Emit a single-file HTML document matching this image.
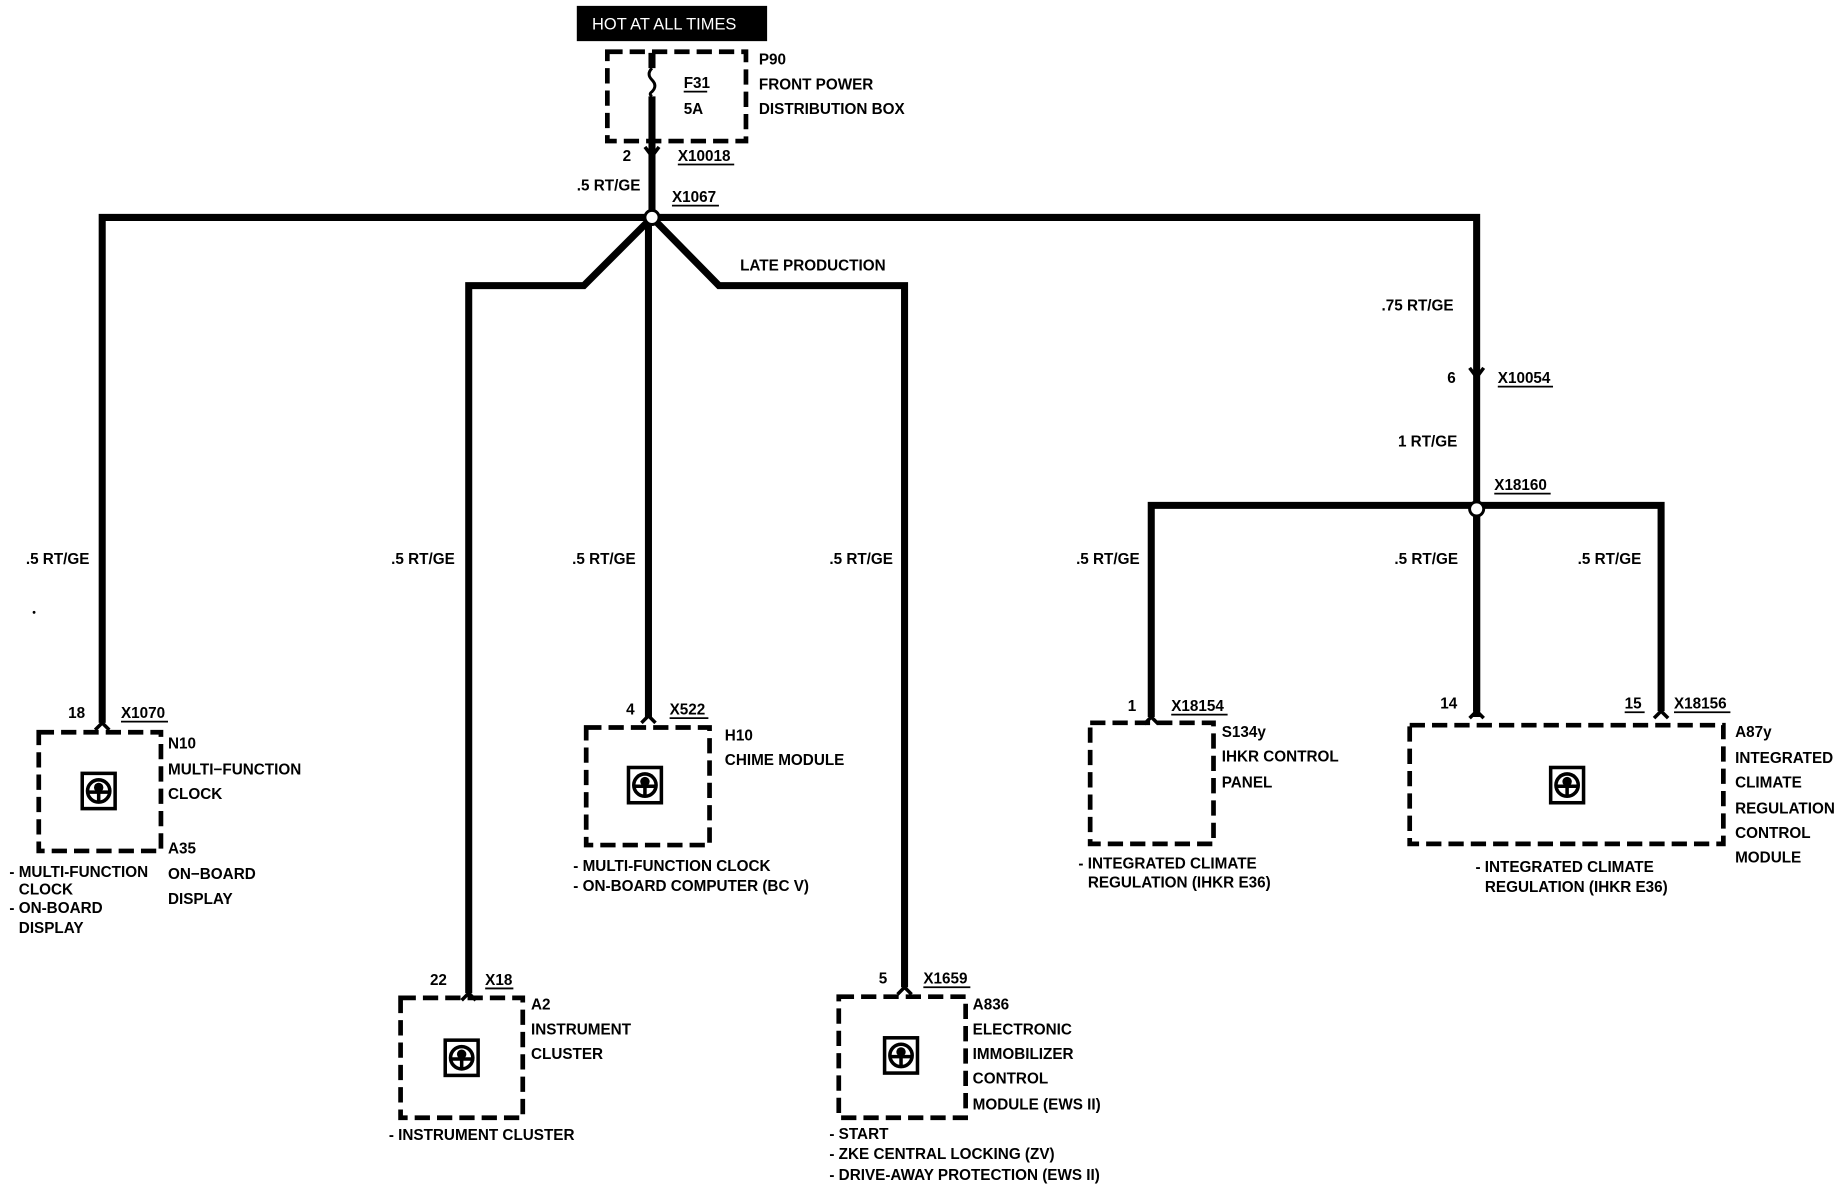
<!DOCTYPE html>
<html><head><meta charset="utf-8"><style>
html,body{margin:0;padding:0;background:#fff;}
svg{display:block;}
text{font-family:"Liberation Sans",sans-serif;font-weight:bold;font-size:13px;fill:#000;}
</style></head><body>
<svg width="1842" height="1200" viewBox="0 0 1568 1021" preserveAspectRatio="none" xmlns="http://www.w3.org/2000/svg">
<defs>
<g id="ico">
<rect x="-14" y="-15" width="28" height="30" fill="#fff" stroke="#000" stroke-width="3"/>
<circle cx="0" cy="0" r="9.5" fill="none" stroke="#000" stroke-width="3"/>
<circle cx="0" cy="-3" r="4" fill="#000"/>
<line x1="0" y1="0" x2="0" y2="9" stroke="#000" stroke-width="3"/>
<line x1="-9" y1="1" x2="9" y2="1" stroke="#000" stroke-width="3"/>
</g>
</defs>
<rect x="491" y="5" width="162" height="30" fill="#000"/>
<text x="504" y="25" style="fill:#fff;font-weight:normal;font-size:14px">HOT AT ALL TIMES</text>

<g fill="none" stroke="#000" stroke-width="4" stroke-dasharray="13,6">
<rect x="517" y="44" width="118" height="76"/>
<rect x="33" y="623" width="104" height="101"/>
<rect x="499" y="619" width="105" height="100"/>
<rect x="341" y="849" width="104" height="102"/>
<rect x="714" y="848" width="108" height="103"/>
<rect x="928" y="615" width="105" height="103"/>
<rect x="1200" y="617" width="267" height="101"/>
</g>

<g fill="none" stroke="#000" stroke-width="6">
<path d="M555,45 V58 M555,82 V185"/>
<path d="M87,615 V185 H1257 V605"/>
<path d="M555,185 L497,243 H399 V845"/>
<path d="M555,185 L612,243 H770 V840"/>
<path d="M552,185 V610"/>
<path d="M980,610 V430 H1414 V605"/>
<path d="M1257,430 V610"/>
</g>
<path d="M555,58 q-5,5 0,10 q5,5 0,10 q-3,2 0,4" fill="none" stroke="#000" stroke-width="2.5"/>
<!-- connector arrows -->
<g fill="none" stroke="#000" stroke-width="3">
<path d="M549,125 L555,133 L561,125"/>
<path d="M1251,313 L1257,321 L1263,313"/>
<path d="M81,621 L87,615 L93,621"/>
<path d="M546,615 L552,609 L558,615"/>
<path d="M393,851 L399,845 L405,851"/>
<path d="M764,846 L770,840 L776,846"/>
<path d="M974,616 L980,610 L986,616"/>
<path d="M1251,611 L1257,605 L1263,611"/>
<path d="M1408,611 L1414,605 L1420,611"/>
</g>
<circle cx="555" cy="185" r="6" fill="#fff" stroke="#000" stroke-width="2.5"/>
<circle cx="1257" cy="433" r="6" fill="#fff" stroke="#000" stroke-width="2.5"/>
<circle cx="29" cy="521" r="1.2" fill="#000"/>

<use href="#ico" x="84" y="673"/>
<use href="#ico" x="549" y="668"/>
<use href="#ico" x="393" y="900"/>
<use href="#ico" x="767" y="898"/>
<use href="#ico" x="1334" y="668"/>

<g>
<text x="582" y="75">F31</text><line x1="582" y1="78" x2="602" y2="78" stroke="#000" stroke-width="1.5"/>
<text x="582" y="97">5A</text>
<text x="646" y="55">P90</text>
<text x="646" y="76">FRONT POWER</text>
<text x="646" y="97">DISTRIBUTION BOX</text>
<text x="530" y="137">2</text>
<text x="577" y="137">X10018</text><line x1="577" y1="140" x2="625" y2="140" stroke="#000" stroke-width="1.5"/>
<text x="491" y="162">.5 RT/GE</text>
<text x="572" y="172">X1067</text><line x1="572" y1="175" x2="612" y2="175" stroke="#000" stroke-width="1.5"/>
<text x="630" y="230">LATE PRODUCTION</text>
<text x="22" y="480">.5 RT/GE</text>
<text x="333" y="480">.5 RT/GE</text>
<text x="487" y="480">.5 RT/GE</text>
<text x="706" y="480">.5 RT/GE</text>
<text x="916" y="480">.5 RT/GE</text>
<text x="1187" y="480">.5 RT/GE</text>
<text x="1343" y="480">.5 RT/GE</text>
<text x="1176" y="264">.75 RT/GE</text>
<text x="1232" y="326">6</text>
<text x="1275" y="326">X10054</text><line x1="1275" y1="329" x2="1322" y2="329" stroke="#000" stroke-width="1.5"/>
<text x="1190" y="380">1 RT/GE</text>
<text x="1272" y="417">X18160</text><line x1="1272" y1="420" x2="1320" y2="420" stroke="#000" stroke-width="1.5"/>

<text x="58" y="611">18</text>
<text x="103" y="611">X1070</text><line x1="103" y1="614" x2="143" y2="614" stroke="#000" stroke-width="1.5"/>
<text x="143" y="637">N10</text>
<text x="143" y="659">MULTI−FUNCTION</text>
<text x="143" y="680">CLOCK</text>
<text x="143" y="726">A35</text>
<text x="143" y="748">ON−BOARD</text>
<text x="143" y="769">DISPLAY</text>
<text x="8" y="746">- MULTI-FUNCTION</text>
<text x="16" y="761">CLOCK</text>
<text x="8" y="777">- ON-BOARD</text>
<text x="16" y="794">DISPLAY</text>

<text x="533" y="608">4</text>
<text x="570" y="608">X522</text><line x1="570" y1="611" x2="603" y2="611" stroke="#000" stroke-width="1.5"/>
<text x="617" y="630">H10</text>
<text x="617" y="651">CHIME MODULE</text>
<text x="488" y="741">- MULTI-FUNCTION CLOCK</text>
<text x="488" y="758">- ON-BOARD COMPUTER (BC V)</text>

<text x="366" y="838">22</text>
<text x="413" y="838">X18</text><line x1="413" y1="841" x2="437" y2="841" stroke="#000" stroke-width="1.5"/>
<text x="452" y="859">A2</text>
<text x="452" y="880">INSTRUMENT</text>
<text x="452" y="901">CLUSTER</text>
<text x="331" y="970">- INSTRUMENT CLUSTER</text>

<text x="748" y="837">5</text>
<text x="786" y="837">X1659</text><line x1="786" y1="840" x2="826" y2="840" stroke="#000" stroke-width="1.5"/>
<text x="828" y="859">A836</text>
<text x="828" y="880">ELECTRONIC</text>
<text x="828" y="901">IMMOBILIZER</text>
<text x="828" y="922">CONTROL</text>
<text x="828" y="944">MODULE (EWS II)</text>
<text x="706" y="969">- START</text>
<text x="706" y="986">- ZKE CENTRAL LOCKING (ZV)</text>
<text x="706" y="1004">- DRIVE-AWAY PROTECTION (EWS II)</text>

<text x="960" y="605">1</text>
<text x="997" y="605">X18154</text><line x1="997" y1="608" x2="1045" y2="608" stroke="#000" stroke-width="1.5"/>
<text x="1040" y="627">S134y</text>
<text x="1040" y="648">IHKR CONTROL</text>
<text x="1040" y="670">PANEL</text>
<text x="918" y="739">- INTEGRATED CLIMATE</text>
<text x="926" y="755">REGULATION (IHKR E36)</text>

<text x="1226" y="603">14</text>
<text x="1383" y="603">15</text><line x1="1383" y1="606" x2="1400" y2="606" stroke="#000" stroke-width="1.5"/>
<text x="1425" y="603">X18156</text><line x1="1425" y1="606" x2="1473" y2="606" stroke="#000" stroke-width="1.5"/>
<text x="1477" y="627">A87y</text>
<text x="1477" y="649">INTEGRATED</text>
<text x="1477" y="670">CLIMATE</text>
<text x="1477" y="692">REGULATION</text>
<text x="1477" y="713">CONTROL</text>
<text x="1477" y="734">MODULE</text>
<text x="1256" y="742">- INTEGRATED CLIMATE</text>
<text x="1264" y="759">REGULATION (IHKR E36)</text>
</g>
</svg>
</body></html>
